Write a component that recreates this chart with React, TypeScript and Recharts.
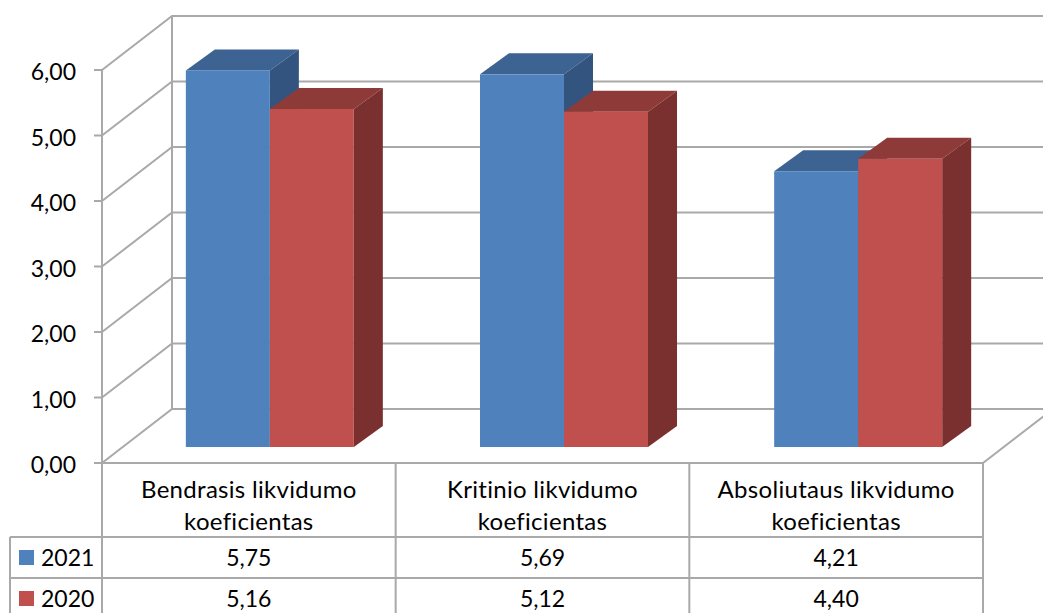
import React from "react";
import { BarChart, Bar, XAxis, YAxis, CartesianGrid } from "recharts";

const categories = [
  ["Bendrasis likvidumo", "koeficientas"],
  ["Kritinio likvidumo", "koeficientas"],
  ["Absoliutaus likvidumo", "koeficientas"],
];
const values2021 = [5.75, 5.69, 4.21];
const values2020 = [5.16, 5.12, 4.4];
const yTicks = [0, 1, 2, 3, 4, 5, 6];
const seriesNames = ["2021", "2020"];

const data = categories.map((c, i) => ({ name: c.join(" "), v2021: values2021[i], v2020: values2020[i] }));

const GRID = "#a9a9a9";
const TEXT = "#000000";
const FONT = "Lato, sans-serif";
const DEPTH_X = 70;
const DEPTH_Y = 54;
const BAR_DX = 21;
const BAR_STEP_DX = 0.5;
const BAR_DY = -16;
const BAR_DEPTH_X = 29;
const BAR_DEPTH_Y = 21;
const PLOT_W = 881;
const BAND = PLOT_W / 3;
const PLOT_TOP = 70;
const AXIS_Y = 463;
const ROW1 = 537;
const ROW2 = 578;
const BOTTOM = 613;
const LEFT = 102;
const TABLE_LEFT = 10;

const fmt = (v: number) => v.toFixed(2).replace(".", ",");

function makeBar(front: string, top: string, side: string) {
  return (props: any) => {
    const x = props.x + BAR_DX + (props.index || 0) * BAR_STEP_DX;
    const y = props.y + BAR_DY;
    const w = props.width;
    const h = props.height;
    const dx = BAR_DEPTH_X;
    const dy = BAR_DEPTH_Y;
    return (
      <g>
        <polygon points={`${x},${y} ${x + dx},${y - dy} ${x + w + dx},${y - dy} ${x + w},${y}`} fill={top} />
        <polygon points={`${x + w},${y} ${x + w + dx},${y - dy} ${x + w + dx},${y + h - dy} ${x + w},${y + h}`} fill={side} />
        <rect x={x} y={y} width={w} height={h} fill={front} />
      </g>
    );
  };
}

const gridLine = (props: any) => {
  const { x1, x2, y1 } = props;
  const isFloor = Math.abs(y1 - AXIS_Y) < 1;
  const isTop = Math.abs(y1 - PLOT_TOP) < 2;
  return (
    <g key={props.key}>
      <polyline
        points={`${x1},${y1} ${x1 + DEPTH_X},${y1 - DEPTH_Y} ${x2 + DEPTH_X},${y1 - DEPTH_Y}`}
        fill="none"
        stroke={GRID}
        strokeWidth={2}
      />
      {isFloor && (
        <line x1={x2} y1={y1} x2={x2 + DEPTH_X} y2={y1 - DEPTH_Y} stroke={GRID} strokeWidth={2} />
      )}
      {isTop && (
        <line x1={x1 + DEPTH_X} y1={y1 - DEPTH_Y} x2={x1 + DEPTH_X} y2={AXIS_Y - DEPTH_Y} stroke={GRID} strokeWidth={2} />
      )}
    </g>
  );
};

const tableTick = (props: any) => {
  const { x, index } = props;
  const right = x + BAND / 2;
  const catText = {
    fontSize: 24,
    letterSpacing: 0.3,
    fontFamily: FONT,
    fill: TEXT,
    textAnchor: "middle" as const,
    style: { fontVariantLigatures: "none" as const },
  };
  const numText = { fontSize: 23, fontFamily: FONT, fill: TEXT, textAnchor: "middle" as const };
  const colors = ["#4f81bd", "#c0504d"];
  return (
    <g>
      <line x1={right} y1={AXIS_Y} x2={right} y2={BOTTOM} stroke={GRID} strokeWidth={2} />
      <line x1={x - BAND / 2} y1={ROW1} x2={right} y2={ROW1} stroke={GRID} strokeWidth={2} />
      <line x1={x - BAND / 2} y1={ROW2} x2={right} y2={ROW2} stroke={GRID} strokeWidth={2} />
      <text x={x} y={498} {...catText}>{categories[index][0]}</text>
      <text x={x} y={530} {...catText}>{categories[index][1]}</text>
      <text x={x} y={566} {...numText}>{fmt(values2021[index])}</text>
      <text x={x} y={607} {...numText}>{fmt(values2020[index])}</text>
      {index === 0 && (
        <g>
          <line x1={LEFT} y1={AXIS_Y} x2={LEFT} y2={BOTTOM} stroke={GRID} strokeWidth={2} />
          <line x1={TABLE_LEFT} y1={ROW1} x2={TABLE_LEFT} y2={BOTTOM} stroke={GRID} strokeWidth={2} />
          <line x1={TABLE_LEFT} y1={ROW1} x2={LEFT} y2={ROW1} stroke={GRID} strokeWidth={2} />
          <line x1={TABLE_LEFT} y1={ROW2} x2={LEFT} y2={ROW2} stroke={GRID} strokeWidth={2} />
          <rect x={19} y={550} width={15} height={15} fill={colors[0]} />
          <rect x={19} y={591} width={15} height={15} fill={colors[1]} />
          <text x={41} y={566} fontSize={23} fontFamily={FONT} fill={TEXT}>{seriesNames[0]}</text>
          <text x={41} y={607} fontSize={23} fontFamily={FONT} fill={TEXT}>{seriesNames[1]}</text>
        </g>
      )}
    </g>
  );
};

export default function App() {
  return (
    <div style={{ position: "absolute", left: 0, top: 0, width: 1043, height: 613, background: "#fff", overflow: "hidden" }}>
      <BarChart
        width={1043}
        height={613}
        data={data}
        margin={{ top: PLOT_TOP, right: 60, bottom: 0, left: 52 }}
        barGap={0}
        barCategoryGap="21.4%"
      >
        <CartesianGrid vertical={false} horizontal={gridLine as any} stroke={GRID} />
        <XAxis
          dataKey="name"
          height={150}
          interval={0}
          tickLine={false}
          axisLine={{ stroke: GRID, strokeWidth: 2 }}
          tick={tableTick as any}
        />
        <YAxis
          width={50}
          domain={[0, 6]}
          ticks={yTicks}
          interval={0}
          tickFormatter={fmt}
          tickSize={8}
          tickMargin={18}
          axisLine={{ stroke: GRID, strokeWidth: 2 }}
          tickLine={{ stroke: GRID, strokeWidth: 2 }}
          tick={{ fontSize: 23, fontFamily: FONT, fill: TEXT, dy: 2 }}
        />
        <Bar dataKey="v2021" name="2021" fill="#4f81bd" isAnimationActive={false} shape={makeBar("#4f81bd", "#3c6391", "#32547e") as any} />
        <Bar dataKey="v2020" name="2020" fill="#c0504d" isAnimationActive={false} shape={makeBar("#c0504d", "#8e3a38", "#7a302e") as any} />
      </BarChart>
    </div>
  );
}
